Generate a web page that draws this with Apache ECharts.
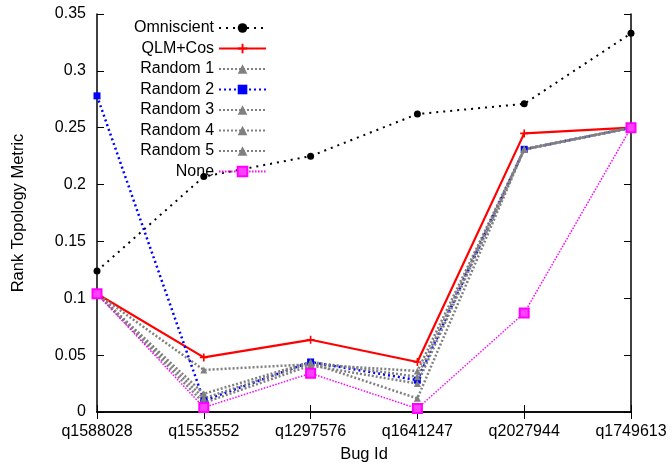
<!DOCTYPE html>
<html lang="en">
<head>
  <meta charset="UTF-8">
  <title>Rank Topology Metric per Bug</title>
  <script src="https://cdn.jsdelivr.net/npm/echarts/dist/echarts.min.js"></script>
  <style>
    html, body { margin: 0; padding: 0; background: #fff; }
    #chart { width: 672px; height: 468px; }
  </style>
</head>
<body>
<div id="chart"></div>
<script>
    // data
    const bugIds = ['q1588028', 'q1553552', 'q1297576', 'q1641247', 'q2027944', 'q1749613'];
    const omniscient = [0.124, 0.207, 0.225, 0.262, 0.271, 0.333];
    const qlmCos     = [0.104, 0.048, 0.0635, 0.044, 0.245, 0.250];
    const random1    = [0.104, 0.037, 0.042, 0.036, 0.231, 0.250];
    const random2    = [0.278, 0.010, 0.044, 0.028, 0.231, 0.250];
    const random3    = [0.104, 0.016, 0.044, 0.031, 0.231, 0.250];
    const random4    = [0.104, 0.012, 0.043, 0.012, 0.231, 0.250];
    const random5    = [0.104, 0.008, 0.041, 0.025, 0.231, 0.250];
    const noneVals   = [0.104, 0.004, 0.034, 0.003, 0.087, 0.250];

    const font = 'Liberation Sans, Arial, sans-serif';
    const gray = '#808080';

    function line(name, data, color, dash, width, symbol, size, extra) {
        return Object.assign({
            name: name,
            type: 'line',
            data: data,
            symbol: symbol,
            symbolSize: size,
            showSymbol: true,
            itemStyle: { color: color },
            lineStyle: { color: color, width: width, type: dash },
            emphasis: { disabled: true },
            animation: false
        }, extra || {});
    }

    const chart = echarts.init(document.getElementById('chart'));
    const options = {
        backgroundColor: '#fff',
        textStyle: { fontFamily: font },
        grid: { left: 97, right: 41, top: 14, bottom: 53 },
        legend: {
            orient: 'vertical',
            align: 'right',
            left: 129,
            top: 15,
            itemWidth: 47,
            itemHeight: 12,
            itemGap: 4.5,
            textStyle: { fontSize: 16, color: '#000', fontFamily: font },
            data: ['Omniscient', 'QLM+Cos', 'Random 1', 'Random 2', 'Random 3', 'Random 4', 'Random 5', 'None']
        },
        xAxis: [
            {
                type: 'category',
                data: bugIds,
                boundaryGap: false,
                name: 'Bug Id',
                nameLocation: 'middle',
                nameGap: 34,
                nameTextStyle: { fontSize: 16.5, color: '#000', fontFamily: font },
                axisLine: { lineStyle: { color: '#000', width: 1.5 } },
                axisTick: { inside: true, length: 7, lineStyle: { color: '#000' } },
                axisLabel: { fontSize: 16, color: '#000', margin: 12, interval: 0 },
                splitLine: { show: false }
            },
            {
                type: 'category',
                data: bugIds,
                boundaryGap: false,
                position: 'top',
                axisLine: { lineStyle: { color: '#000', width: 1.5 } },
                axisTick: { inside: true, length: 7, lineStyle: { color: '#000' } },
                axisLabel: { show: false },
                splitLine: { show: false }
            }
        ],
        yAxis: [
            {
                type: 'value',
                min: 0,
                max: 0.35,
                interval: 0.05,
                name: 'Rank Topology Metric',
                nameLocation: 'middle',
                nameGap: 70,
                nameTextStyle: { fontSize: 16.5, color: '#000', fontFamily: font },
                axisLine: { show: true, lineStyle: { color: '#000', width: 1.5 } },
                axisTick: { show: true, inside: true, length: 7, lineStyle: { color: '#000' } },
                axisLabel: { fontSize: 16, color: '#000', margin: 11 },
                splitLine: { show: false }
            },
            {
                type: 'value',
                min: 0,
                max: 0.35,
                interval: 0.05,
                position: 'right',
                axisLine: { show: true, lineStyle: { color: '#000', width: 1.5 } },
                axisTick: { show: true, inside: true, length: 7, lineStyle: { color: '#000' } },
                axisLabel: { show: false },
                splitLine: { show: false }
            }
        ],
        series: [
            line('Omniscient', omniscient, '#000', [2, 5], 2, 'circle', 7),
            line('QLM+Cos', qlmCos, '#ff0000', 'solid', 2.2, 'path://M4,0H6V4H10V6H6V10H4V6H0V4H4Z', 8),
            line('Random 1', random1, gray, [2, 2], 2.5, 'triangle', 7),
            line('Random 2', random2, '#0000ff', [2, 3], 2.5, 'rect', 7),
            line('Random 3', random3, gray, [2, 2], 2.5, 'triangle', 7),
            line('Random 4', random4, gray, [2, 2], 2.5, 'triangle', 7),
            line('Random 5', random5, gray, [2, 2], 2.5, 'triangle', 7),
            line('None', noneVals, '#ff00ff', [1.5, 1.5], 1.5, 'rect', 9, {
                itemStyle: { color: '#ff40ff', borderColor: '#ff00ff', borderWidth: 2 }
            })
        ]
    };
    chart.setOption(options);
</script>
</body>
</html>
